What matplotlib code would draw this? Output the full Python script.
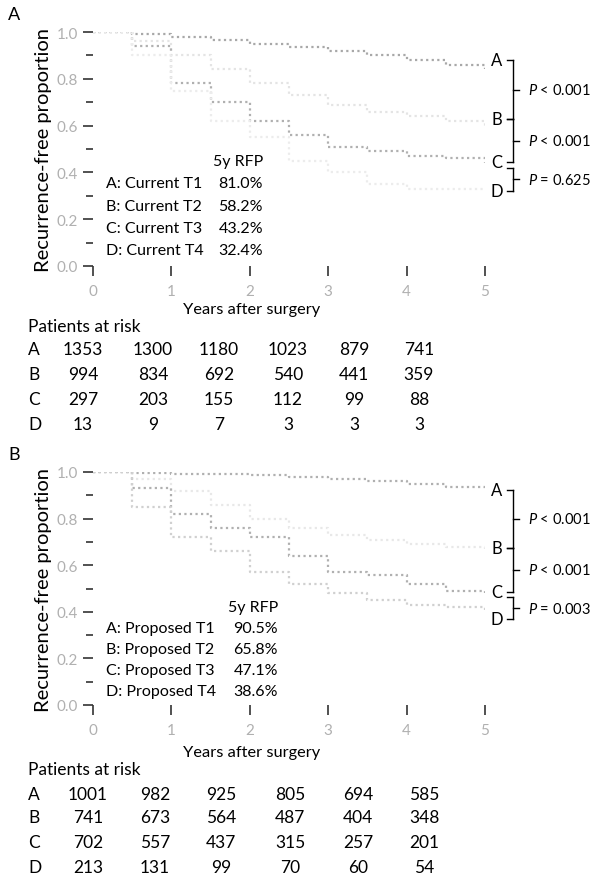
import numpy as np
import matplotlib
matplotlib.use("Agg")
import matplotlib.pyplot as plt

plt.rcParams['font.family'] = ['Lato', 'DejaVu Sans']
plt.rcParams['mathtext.fontset'] = 'custom'
plt.rcParams['mathtext.it'] = 'Lato:italic'
plt.rcParams['mathtext.rm'] = 'Lato'

W, H = 597, 879

# yearly-ish time grid for the step curves
times = [0, 0.5, 1, 1.5, 2, 2.5, 3, 3.5, 4, 4.5, 5]

# panel A (current T category), survival
curA_A = [1.0, 0.99, 0.98, 0.965, 0.95, 0.935, 0.92, 0.90, 0.88, 0.86, 0.84]
curA_B = [1.0, 0.96, 0.90, 0.84, 0.78, 0.73, 0.69, 0.66, 0.64, 0.62, 0.60]
curA_C = [1.0, 0.94, 0.78, 0.70, 0.62, 0.56, 0.51, 0.49, 0.47, 0.46, 0.44]
curA_D = [1.0, 0.90, 0.75, 0.62, 0.55, 0.45, 0.40, 0.35, 0.33, 0.33, 0.33]

# panel B (proposed T category)
curB_A = [1.0, 0.995, 0.99, 0.99, 0.985, 0.98, 0.97, 0.96, 0.95, 0.935, 0.92]
curB_B = [1.0, 0.97, 0.92, 0.86, 0.80, 0.76, 0.73, 0.71, 0.69, 0.68, 0.67]
curB_C = [1.0, 0.93, 0.82, 0.76, 0.72, 0.64, 0.57, 0.56, 0.52, 0.49, 0.48]
curB_D = [1.0, 0.85, 0.72, 0.66, 0.57, 0.52, 0.48, 0.45, 0.43, 0.42, 0.40]

legA = ["A: Current T1", "B: Current T2", "C: Current T3", "D: Current T4"]
rfpA = ["81.0%", "58.2%", "43.2%", "32.4%"]
legB = ["A: Proposed T1", "B: Proposed T2", "C: Proposed T3", "D: Proposed T4"]
rfpB = ["90.5%", "65.8%", "47.1%", "38.6%"]

riskA = [[1353, 1300, 1180, 1023, 879, 741],
         [994, 834, 692, 540, 441, 359],
         [297, 203, 155, 112, 99, 88],
         [13, 9, 7, 3, 3, 3]]
riskB = [[1001, 982, 925, 805, 694, 585],
         [741, 673, 564, 487, 404, 348],
         [702, 557, 437, 315, 257, 201],
         [213, 131, 99, 70, 60, 54]]

pA = ["< 0.001", "< 0.001", "= 0.625"]
pB = ["< 0.001", "< 0.001", "= 0.003"]

# where the A-D end labels / brackets sit (y in data units)
endA = [0.880, 0.628, 0.444, 0.419, 0.321]
endB = [0.923, 0.675, 0.487, 0.462, 0.368]

groups = ["A", "B", "C", "D"]

fig = plt.figure(figsize=(W / 100, H / 100), dpi=100)


def ftext(x, y, s, **kw):
    return fig.text(x / W, 1 - y / H, s, **kw)


def panel(top, bottom, curves, colors, leg, rfp, risk, pvals, ends, letter,
          leg_y, leg_right, col_x, risk_y, xlab_y):
    ax = fig.add_axes([93 / W, 1 - bottom / H, (485 - 93) / W, (bottom - top) / H])
    for s, c in zip(curves, colors):
        ax.step(times, s, where='post', color=c, lw=1.6, ls=(0, (1, 1.5)))
    ax.set_xlim(0, 5)
    ax.set_ylim(0, 1.0)
    for sp in ax.spines.values():
        sp.set_visible(False)
    ax.set_xticks(range(6))
    ax.set_yticks(np.arange(0, 1.01, 0.2))
    ax.set_yticks(np.arange(0.1, 1.0, 0.2), minor=True)
    ax.set_yticklabels(["0.0", "0.2", "0.4", "0.6", "0.8", "1.0"])
    ax.tick_params(axis='both', which='both', direction='out', color='#333333',
                   width=1.2, labelcolor='#b0b0b0', labelsize=11)
    ax.tick_params(axis='y', which='major', length=7, pad=4)
    ax.tick_params(axis='y', which='minor', length=5)
    ax.tick_params(axis='x', length=7, pad=6)
    ax.set_xlabel("Years after surgery", fontsize=11.8)
    h = bottom - top
    ax.xaxis.set_label_coords((252 - 93) / 392, -(xlab_y - bottom) / h)
    ax.xaxis.label.set_va('center')
    ax.set_ylabel("Recurrence-free proportion", fontsize=14.5)
    ax.yaxis.set_label_coords(-(93 - 44) / 392, 0.5)
    ax.yaxis.label.set_va('center')

    # legend block
    ftext(leg_right, leg_y[0], "5y RFP", ha='right', va='center', fontsize=11.5)
    for i in range(4):
        ftext(106, leg_y[i + 1], leg[i], ha='left', va='center', fontsize=11.5)
        ftext(leg_right, leg_y[i + 1], rfp[i], ha='right', va='center', fontsize=11.5)

    # end labels and brackets
    yA, yB, yC, yC2, yD = ends
    lab_y = [yA, yB, yC, yD]
    for g, y in zip(groups, lab_y):
        ax.text(5.15, y, g, ha='center', va='center', fontsize=12, clip_on=False)
    bx, hook, tick = 5.36, 0.08, 0.07
    for (y0, y1), p in zip([(yA, yB), (yB, yC), (yC2, yD)], pvals):
        ax.plot([bx, bx], [y0, y1], color='black', lw=1, clip_on=False)
        ax.plot([bx - hook, bx], [y0, y0], color='black', lw=1, clip_on=False)
        ax.plot([bx - hook, bx], [y1, y1], color='black', lw=1, clip_on=False)
        ym = (y0 + y1) / 2
        ax.plot([bx, bx + tick], [ym, ym], color='black', lw=1, clip_on=False)
        ax.text(5.55, ym, r"$\it{P}$ " + p, ha='left', va='center', fontsize=10.5,
                clip_on=False)

    # panel letter
    ftext(8, top - 18, letter, ha='left', va='center', fontsize=13)

    # risk table
    ftext(28, risk_y[0], "Patients at risk", ha='left', va='center', fontsize=12.5)
    for r, g in enumerate(groups):
        ftext(28, risk_y[r + 1], g, ha='left', va='center', fontsize=12.5)
        for c, v in enumerate(risk[r]):
            ftext(col_x[c], risk_y[r + 1], str(v), ha='center', va='center',
                  fontsize=12.5)
    return ax


colsA = ['#a8a8a8', '#e4e4e4', '#b0b0b0', '#ececec']
colsB = ['#b0b0b0', '#e8e8e8', '#b0b0b0', '#d0d0d0']

panel(33, 267, [curA_A, curA_B, curA_C, curA_D], colsA, legA, rfpA, riskA, pA, endA,
      "A", [162, 184, 207, 229, 251], 263, [83, 153, 219, 288, 354, 419],
      [327, 350, 375, 400, 425], 310)
panel(473, 706, [curB_A, curB_B, curB_C, curB_D], colsB, legB, rfpB, riskB, pB, endB,
      "B", [608, 629, 650, 671, 692], 278, [88, 155, 221, 290, 358, 424],
      [770, 795, 818, 843, 868], 753)

fig.savefig("out.png", dpi=100)
